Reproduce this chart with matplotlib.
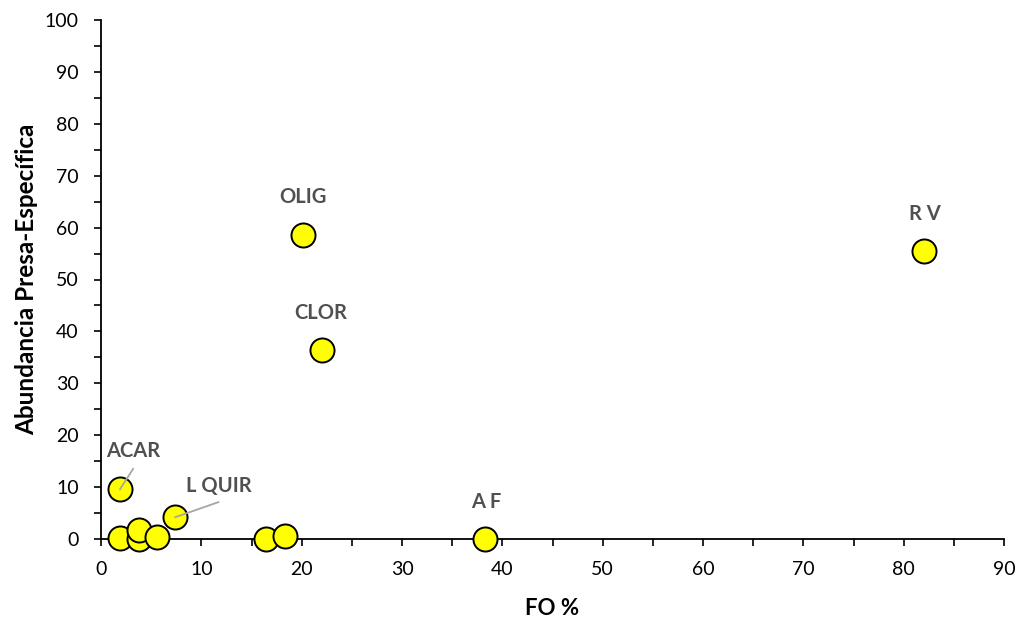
import matplotlib
matplotlib.use('Agg')
import matplotlib.pyplot as plt
from matplotlib.ticker import MultipleLocator

plt.rcParams['font.family'] = ['Lato', 'DejaVu Sans']

# frecuencia de ocurrencia (%) y abundancia presa-especifica (%)
fo = [1.9, 1.9, 3.8, 3.8, 5.6, 7.4, 16.4, 18.3, 38.3, 20.1, 22.0, 82.0]
abund = [9.6, 0.1, 0.0, 1.8, 0.3, 4.2, 0.0, 0.6, 0.0, 58.6, 36.4, 55.5]

# etiquetas: nombre, punto, posicion del texto
lab_names = ['ACAR', 'L QUIR', 'A F', 'OLIG', 'CLOR', 'R V']
lab_pts = [(1.9, 9.6), (7.4, 4.2), (38.3, 0.0), (20.1, 58.6), (22.0, 36.4), (82.0, 55.5)]
lab_txt = [(3.2, 17.0), (11.7, 10.2), (38.4, 7.2), (20.1, 65.8), (21.9, 43.6), (82.1, 62.6)]
# final de las lineas guia (solo ACAR y L QUIR)
guides = {'ACAR': (3.2, 13.5), 'L QUIR': (11.7, 7.1)}

fig = plt.figure(figsize=(10.22, 6.21), dpi=100)
ax = fig.add_axes([101 / 1022, 82 / 621, 903 / 1022, 519 / 621])

ax.scatter(fo, abund, s=300, c='#ffff00', edgecolors='black', linewidths=1.4,
           zorder=3, clip_on=False)

for name, (px, py), (tx, ty) in zip(lab_names, lab_pts, lab_txt):
    ax.text(tx, ty, name, ha='center', va='center', fontsize=14.5,
            fontweight='bold', color='#505050')
    if name in guides:
        gx, gy = guides[name]
        ax.plot([px, gx], [py, gy], color='#a6a6a6', lw=1.3, zorder=4)

ax.set_xlim(0, 90)
ax.set_ylim(0, 100)
ax.xaxis.set_major_locator(MultipleLocator(10))
ax.xaxis.set_minor_locator(MultipleLocator(5))
ax.yaxis.set_major_locator(MultipleLocator(10))
ax.yaxis.set_minor_locator(MultipleLocator(5))
ax.tick_params(which='both', direction='out', width=1.2, color='black')
ax.tick_params(which='major', length=5, labelsize=14, pad=11)
ax.tick_params(which='minor', length=5)

for side in ['top', 'right']:
    ax.spines[side].set_visible(False)
for side in ['left', 'bottom']:
    ax.spines[side].set_linewidth(1.3)

ax.set_xlabel('FO %', fontsize=16, fontweight='bold', color='black', labelpad=14)
ax.set_ylabel('Abundancia Presa-Específica', fontsize=17.5, fontweight='bold',
              color='black', labelpad=5)

fig.savefig('out.png', dpi=100)
